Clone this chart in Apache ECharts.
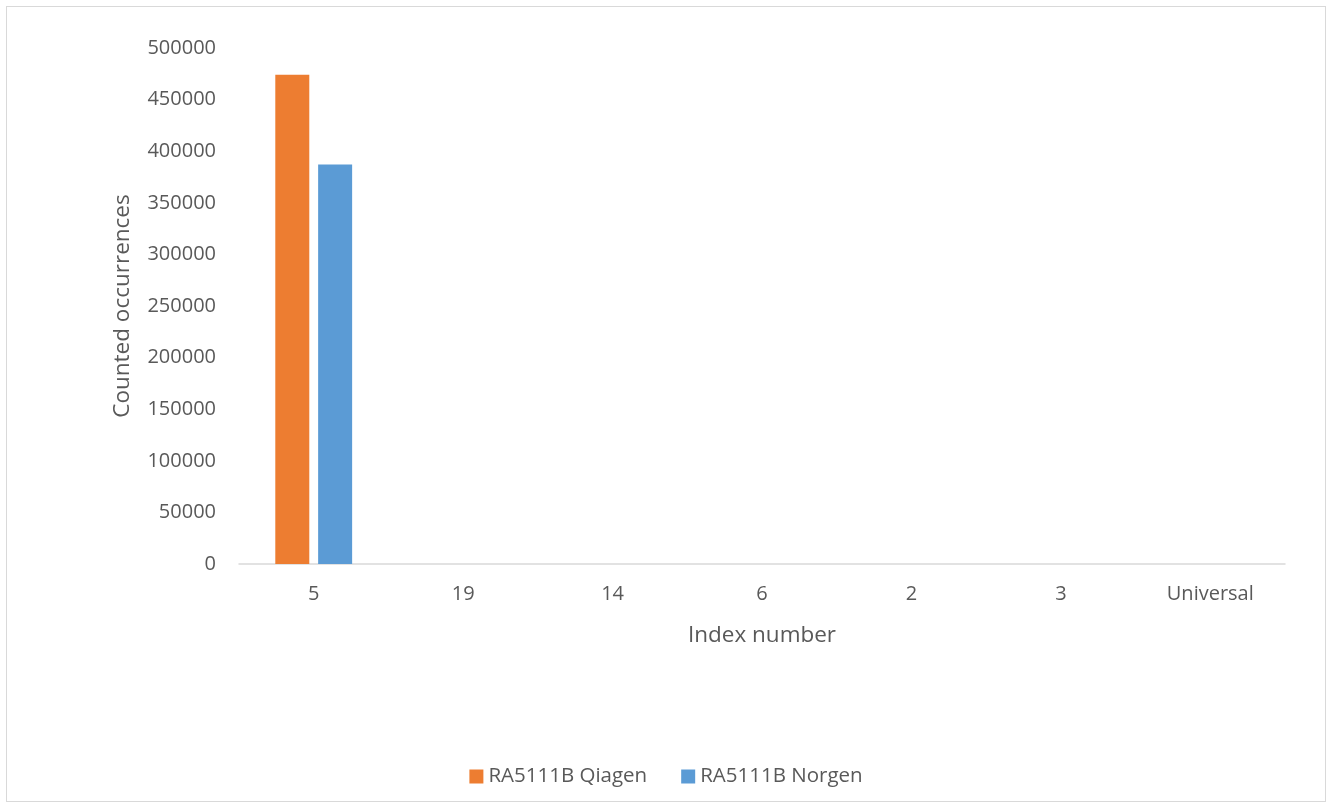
<!DOCTYPE html>
<html>
<head>
<meta charset="utf-8">
<script src="https://cdn.jsdelivr.net/npm/echarts@6/dist/echarts.min.js"></script>
<style>
  html, body { margin: 0; padding: 0; background: #fff; }
  #frame { position: absolute; left: 6px; top: 6px; width: 1320px; height: 796px; border: 1px solid #d9d9d9; box-sizing: border-box; }
  #chart { position: absolute; left: 0; top: 0; width: 1332px; height: 808px; }
</style>
</head>
<body>
<div id="frame"></div>
<div id="chart"></div>
<script>
// Index numbers on the x axis
const categories = ['5', '19', '14', '6', '2', '3', 'Universal'];
// Counted occurrences per index, one array per sample
const qiagenValues = [474000, 0, 0, 0, 0, 0, 0];
const norgenValues = [387000, 0, 0, 0, 0, 0, 0];
const seriesNames = ['RA5111B Qiagen', 'RA5111B Norgen'];

const FONT = '"Open Sans", "Noto Sans", sans-serif';
const TXT = '#595959';

const chart = echarts.init(document.getElementById('chart'), null, { renderer: 'canvas' });
chart.setOption({
  animation: false,
  backgroundColor: 'transparent',
  textStyle: { fontFamily: FONT },
  grid: { left: 239, right: 47, top: 48, bottom: 244, containLabel: false },
  legend: {
    bottom: 16,
    left: 'center',
    itemWidth: 14,
    itemHeight: 14,
    itemGap: 34,
    icon: 'rect',
    textStyle: { fontFamily: FONT, fontSize: 20.5, color: TXT },
    data: seriesNames
  },
  xAxis: {
    type: 'category',
    data: categories,
    name: 'Index number',
    nameLocation: 'middle',
    nameGap: 60,
    nameTextStyle: { fontFamily: FONT, fontSize: 22.5, color: TXT },
    axisLine: { lineStyle: { color: '#d9d9d9', width: 1.5 } },
    axisTick: { show: false },
    axisLabel: { fontFamily: FONT, fontSize: 20, color: TXT, margin: 20 }
  },
  yAxis: {
    type: 'value',
    min: 0,
    max: 500000,
    interval: 50000,
    name: 'Counted occurrences',
    nameLocation: 'middle',
    nameGap: 105,
    nameTextStyle: { fontFamily: FONT, fontSize: 22.5, color: TXT },
    axisLine: { show: false },
    axisTick: { show: false },
    splitLine: { show: false },
    axisLabel: { fontFamily: FONT, fontSize: 20, color: TXT, margin: 23, formatter: v => String(v) }
  },
  series: [
    {
      name: seriesNames[0],
      type: 'bar',
      data: qiagenValues,
      barWidth: 34,
      barGap: '26%',
      itemStyle: { color: '#ed7d31' }
    },
    {
      name: seriesNames[1],
      type: 'bar',
      data: norgenValues,
      barWidth: 34,
      itemStyle: { color: '#5b9bd5' }
    }
  ]
});
</script>
</body>
</html>
